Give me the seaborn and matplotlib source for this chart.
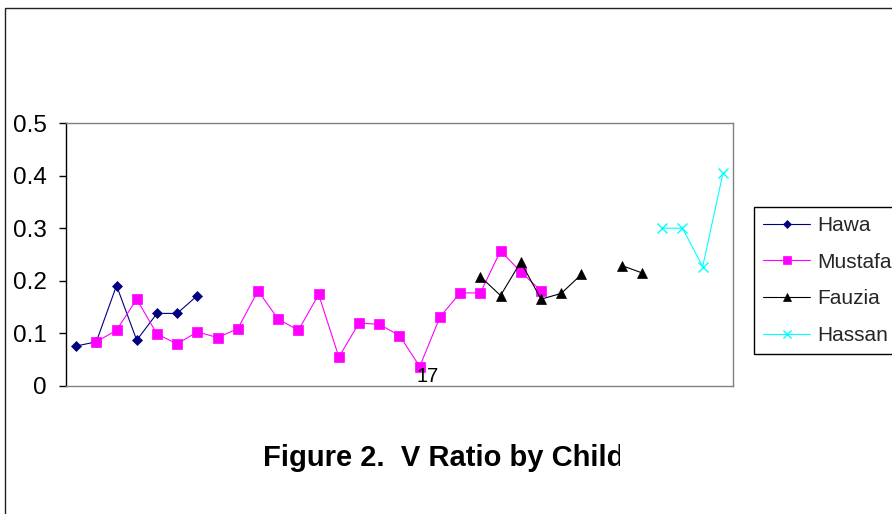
import numpy as np
import pandas as pd
import matplotlib
matplotlib.use("Agg")
import matplotlib.pyplot as plt
from matplotlib.lines import Line2D
from matplotlib.patches import Rectangle
from matplotlib.transforms import Bbox
import seaborn as sns

# Session numbers (category positions) and V ratio per child
hawa_idx = [1, 2, 3, 4, 5, 6, 7]
hawa = [0.076, 0.084, 0.191, 0.087, 0.138, 0.138, 0.172]

mustafa_idx = list(range(2, 25))
mustafa = [0.084, 0.106, 0.165, 0.099, 0.080, 0.103, 0.092, 0.109, 0.181,
           0.127, 0.106, 0.174, 0.055, 0.120, 0.117, 0.096, 0.037, 0.131,
           0.177, 0.177, 0.257, 0.217, 0.181]

fauzia_idx = [21, 22, 23, 24, 25, 26, 28, 29]
fauzia = [0.208, 0.172, 0.236, 0.165, 0.176, 0.212, 0.229, 0.215]

hassan_idx = [30, 31, 32, 33]
hassan = [0.300, 0.300, 0.227, 0.404]

names = ["Hawa", "Mustafa", "Fauzia", "Hassan"]
y_ticks = [0, 0.1, 0.2, 0.3, 0.4, 0.5]
y_tick_labels = ["0", "0.1", "0.2", "0.3", "0.4", "0.5"]
axis_note = "17"
title = "Figure 2.  V Ratio by Child"

sns.set_theme(style="white")
plt.rcParams["font.family"] = ["Liberation Sans", "DejaVu Sans"]

W, H = 892, 514
fig = plt.figure(figsize=(W / 100, H / 100), dpi=100)
fig.patch.set_facecolor("white")

# chart-area border (extends past the right and bottom edges)
fig.patches.append(Rectangle((5 / W, -0.2), 1.2, 1.2 - 8 / H,
                             transform=fig.transFigure, fill=False,
                             edgecolor="#202020", linewidth=1.0))

ax = fig.add_axes([66 / W, 1 - 386 / H, 667 / W, 263 / H])

styles = {
    "Hawa": dict(color="#000080", marker="D", markersize=5.5, mew=0.5),
    "Mustafa": dict(color="#FF00FF", marker="s", markersize=6.8, mew=0.5),
    "Fauzia": dict(color="#000000", marker="^", markersize=7.5, mew=0.5),
    "Hassan": dict(color="#00FFFF", marker="x", markersize=6.5, mew=1.0),
}
series = {
    "Hawa": (hawa_idx, hawa),
    "Mustafa": (mustafa_idx, mustafa),
    "Fauzia": (fauzia_idx, fauzia),
    "Hassan": (hassan_idx, hassan),
}

for name in names:
    idx, vals = series[name]
    df = pd.DataFrame({"session": idx, "ratio": vals})
    # break the line wherever a session is missing
    run = (df["session"].diff().fillna(1) != 1).cumsum()
    st = styles[name]
    for _, part in df.groupby(run):
        sns.lineplot(data=part, x="session", y="ratio", ax=ax, sort=False,
                     color=st["color"], linewidth=0.8, marker=st["marker"],
                     markersize=st["markersize"], markeredgecolor=st["color"],
                     markerfacecolor=st["color"], markeredgewidth=st["mew"],
                     legend=False, errorbar=None)

ax.set_xlim(0.5, 33.5)
ax.set_ylim(0, 0.5)
ax.set_xlabel("")
ax.set_ylabel("")
ax.set_xticks([])
ax.set_yticks(y_ticks)
ax.set_yticklabels(y_tick_labels)
ax.tick_params(axis="y", left=True, direction="out", length=5, width=1,
               color="black", pad=9, labelsize=17.5, labelcolor="black")
for side in ["top", "right", "bottom"]:
    ax.spines[side].set_color("#808080")
    ax.spines[side].set_linewidth(1.0)
ax.spines["left"].set_color("black")
ax.spines["left"].set_linewidth(1.0)
ax.grid(False)

ax.text(18.4, 0.007, axis_note, ha="center", va="baseline", fontsize=14.5,
        color="black")

handles = [Line2D([], [], color=styles[n]["color"], linewidth=0.8,
                  marker=styles[n]["marker"],
                  markersize=styles[n]["markersize"] * 0.8,
                  markeredgecolor=styles[n]["color"],
                  markerfacecolor=styles[n]["color"],
                  markeredgewidth=styles[n]["mew"]) for n in names]
leg = ax.legend(handles, names, loc="upper left",
                bbox_to_anchor=(754 / W, 1 - 206.5 / H),
                bbox_transform=fig.transFigure, borderaxespad=0,
                fontsize=15, handlelength=2.25, handletextpad=0.33,
                labelspacing=0.85, borderpad=0.45, frameon=True,
                fancybox=False, framealpha=1)
leg.get_frame().set_edgecolor("black")
leg.get_frame().set_linewidth(1.0)

t = fig.text(444 / W, 1 - 466.5 / H, title, ha="center", va="baseline",
             fontsize=21, fontweight="bold", color="black")
t.set_clip_box(Bbox.from_extents(0, 0, 620, H))
t.set_clip_on(True)

fig.savefig("out.png", dpi=100)
